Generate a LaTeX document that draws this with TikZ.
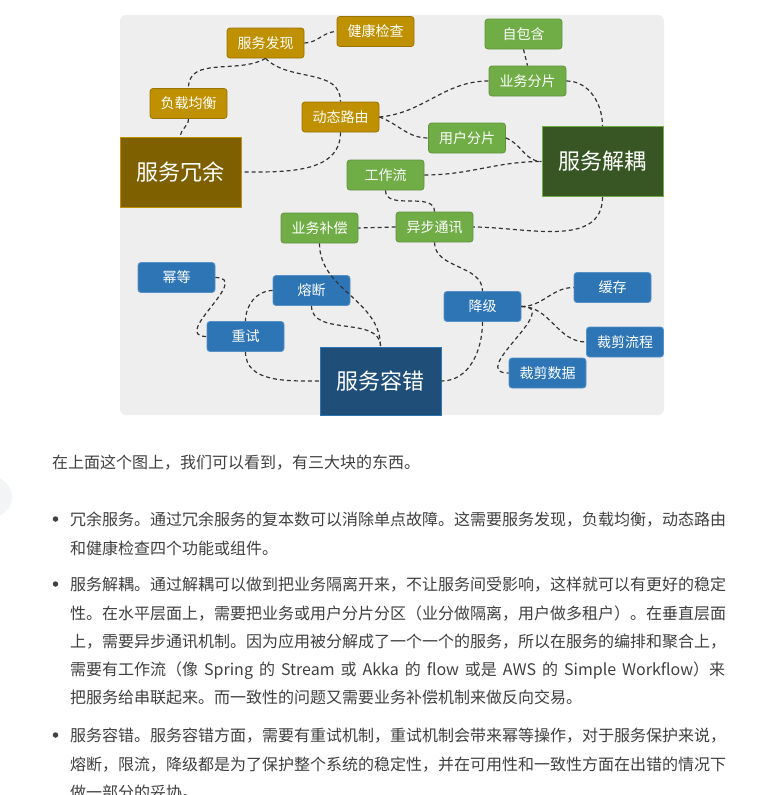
\documentclass[tikz,border=0pt]{standalone}
\usepackage{fontspec}
\setmainfont{Noto Sans CJK SC}
\XeTeXlinebreaklocale "zh"
\XeTeXlinebreakskip=0pt plus 2pt minus 0.5pt
\usetikzlibrary{positioning}
\usepackage{xcolor}
\definecolor{panelgray}{RGB}{238,238,238}
\definecolor{redgold}{RGB}{191,144,0}
\definecolor{redbrown}{RGB}{127,96,0}
\definecolor{decgreen}{RGB}{112,173,71}
\definecolor{decdark}{RGB}{55,86,35}
\definecolor{faultblue}{RGB}{46,117,182}
\definecolor{faultdark}{RGB}{31,78,121}
\definecolor{linegray}{RGB}{51,51,51}
\definecolor{bodygray}{RGB}{64,64,64}
\definecolor{pagegray}{RGB}{243,244,246}

\begin{document}
\begin{tikzpicture}[x=1pt, y=1pt,
  item/.style={rectangle, rounded corners=3pt, minimum width=77pt, minimum height=30pt, inner sep=0pt, text=white, font=\fontsize{14}{14}\selectfont, line width=0.8pt},
  goldbox/.style={item, fill=redgold, draw=redgold!80!black},
  greenbox/.style={item, fill=decgreen, draw=decgreen!85!black},
  bluebox/.style={item, fill=faultblue, draw=faultblue!80!white},
  bigbox/.style={rectangle, minimum width=121pt, minimum height=70pt, inner sep=0pt, text=white, font=\fontsize{22}{22}\selectfont, line width=1pt},
  link/.style={dash pattern=on 4pt off 3pt, line width=1.2pt, draw=linegray},
  textline/.style={anchor=base west, inner sep=0pt, text=bodygray, font=\fontsize{16}{16}\selectfont},
  bullet/.style={circle, fill=bodygray, inner sep=0pt, minimum size=5.5pt},
]
  \useasboundingbox[fill=white] (0,0) rectangle (757,-795);
  \fill[pagegray] (-8,-497) circle (20);
  \fill[panelgray, rounded corners=6pt] (120,-15) rectangle (664,-415);

  % redundancy
  \node[bigbox, fill=redbrown, draw=redgold] (rongyu) at (180.5,-172) {服务冗余};
  \node[goldbox] (faxian) at (265.5,-43) {服务发现};
  \node[goldbox] (jiankang) at (375.5,-31.5) {健康检查};
  \node[goldbox] (fuzai) at (188.5,-103.5) {负载均衡};
  \node[goldbox] (luyou) at (340.5,-117) {动态路由};

  % decoupling
  \node[bigbox, fill=decdark, draw=decgreen] (jieou) at (602.5,-161.5) {服务解耦};
  \node[greenbox] (zibaohan) at (523.5,-34) {自包含};
  \node[greenbox] (yewufp) at (527.5,-81) {业务分片};
  \node[greenbox] (yonghufp) at (467,-138) {用户分片};
  \node[greenbox] (gongzuo) at (385.5,-175) {工作流};
  \node[greenbox] (yibu) at (434.5,-227) {异步通讯};
  \node[greenbox] (buchang) at (319.5,-228) {业务补偿};

  % fault tolerance
  \node[bigbox, fill=faultdark, draw=faultblue, minimum height=68pt] (rongcuo) at (380.5,-381) {服务容错};
  \node[bluebox] (mideng) at (176.5,-277.5) {幂等};
  \node[bluebox] (rongduan) at (311.5,-290.5) {熔断};
  \node[bluebox] (chongshi) at (245.5,-336.5) {重试};
  \node[bluebox] (jiangji) at (482.5,-306.5) {降级};
  \node[bluebox] (huancun) at (612.5,-287.5) {缓存};
  \node[bluebox] (liucheng) at (625,-342) {裁剪流程};
  \node[bluebox] (shuju) at (547.5,-373) {裁剪数据};

  \draw[link] (faxian.east) to[out=0, in=180] (jiankang.west);
  \draw[link] (faxian.south) to[out=210, in=90] (fuzai.north);
  \draw[link] (faxian.south) to[out=-45, in=90] (luyou.north);
  \draw[link] (fuzai.south) to[out=-90, in=90] (rongyu.north);
  \draw[link] (luyou.south) to[out=-90, in=0] (rongyu.east);
  \draw[link] (luyou.east) to[out=5, in=180] (yewufp.west);
  \draw[link] (luyou.east) to[out=-20, in=180] (yonghufp.west);
  \draw[link] (zibaohan.south) -- (yewufp.north);
  \draw[link] (yewufp.east) to[out=0, in=90] (jieou.north);
  \draw[link] (yonghufp.east) to[out=-20, in=180] (jieou.west);
  \draw[link] (gongzuo.east) to[out=0, in=180] (jieou.west);
  \draw[link] (jieou.south) to[out=-90, in=0] (yibu.east);
  \draw[link] (gongzuo.south) to[out=-90, in=90] (yibu.north);
  \draw[link] (yibu.west) -- (buchang.east);
  \draw[link] (buchang.south) to[out=-90, in=90] (rongcuo.north);
  \draw[link] (yibu.south) to[out=-90, in=90] (jiangji.north);
  \draw[link] (rongduan.south) to[out=-90, in=90] (rongcuo.north);
  \draw[link] (rongduan.west) to[out=180, in=90] (chongshi.north);
  \draw[link] (mideng.east) to[out=0, in=180, looseness=1.6] (chongshi.west);
  \draw[link] (chongshi.south) to[out=-90, in=180] (rongcuo.west);
  \draw[link] (jiangji.south) to[out=-90, in=0] (rongcuo.east);
  \draw[link] (jiangji.east) to[out=0, in=180] (huancun.west);
  \draw[link] (jiangji.east) to[out=0, in=180] (liucheng.west);
  \draw[link] (jiangji.east) to[out=0, in=180, looseness=1.6] (shuju.west);

  % text below the picture
  \node[textline] (intro) at (52,-468) {在上面这个图上，我们可以看到，有三大块的东西。};
  \node[bullet] (dot1) at (55.5,-519) {};
  \node[textline] (p1a) at (70,-525) {\makebox[655pt][s]{冗余服务。通过冗余服务的复本数可以消除单点故障。这需要服务发现，负载均衡，动态路由}};
  \node[textline] (p1b) at (70,-554) {和健康检查四个功能或组件。};
  \node[bullet] (dot2) at (55.5,-584) {};
  \node[textline] (p2a) at (70,-590) {\makebox[655pt][s]{服务解耦。通过解耦可以做到把业务隔离开来，不让服务间受影响，这样就可以有更好的稳定}};
  \node[textline] (p2b) at (70,-619) {\makebox[655pt][s]{性。在水平层面上，需要把业务或用户分片分区（业分做隔离，用户做多租户）。在垂直层面}};
  \node[textline] (p2c) at (70,-647) {\makebox[655pt][s]{上，需要异步通讯机制。因为应用被分解成了一个一个的服务，所以在服务的编排和聚合上，}};
  \node[textline] (p2d) at (70,-675) {\makebox[655pt][s]{需要有工作流（像 Spring 的 Stream 或 Akka 的 flow 或是 AWS 的 Simple Workflow）来}};
  \node[textline] (p2e) at (70,-703) {把服务给串联起来。而一致性的问题又需要业务补偿机制来做反向交易。};
  \node[bullet] (dot3) at (55.5,-735) {};
  \node[textline] (p3a) at (70,-741) {\makebox[655pt][s]{服务容错。服务容错方面，需要有重试机制，重试机制会带来幂等操作，对于服务保护来说，}};
  \node[textline] (p3b) at (70,-770) {\makebox[655pt][s]{熔断，限流，降级都是为了保护整个系统的稳定性，并在可用性和一致性方面在出错的情况下}};
  \node[textline] (p3c) at (70,-798) {做一部分的妥协。};
\end{tikzpicture}
\end{document}
